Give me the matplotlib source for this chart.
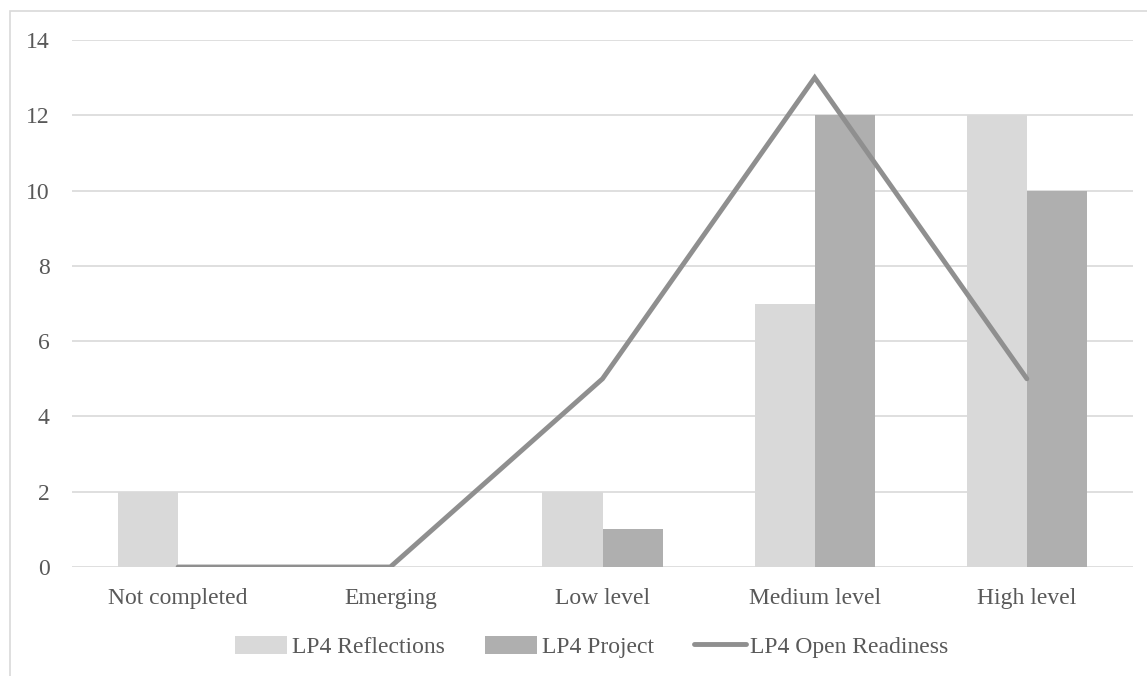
import numpy as np
import matplotlib.pyplot as plt
from matplotlib.patches import Rectangle

categories = ["Not completed", "Emerging", "Low level", "Medium level", "High level"]
reflections = [2, 0, 2, 7, 12]
project = [0, 0, 1, 12, 10]
open_readiness = [0, 0, 5, 13, 5]

plt.rcParams['font.family'] = ['Liberation Serif', 'DejaVu Serif']

fig = plt.figure(figsize=(11.47, 6.76), dpi=100)
ax = fig.add_axes([72/1147, 1-567/676, (1133-72)/1147, (567-40)/676])

x = np.arange(len(categories))
w = 0.283
b1 = ax.bar(x - w/2, reflections, w, color='#d9d9d9', label='LP4 Reflections', zorder=2)
b2 = ax.bar(x + w/2, project, w, color='#afafaf', label='LP4 Project', zorder=2)
l1, = ax.plot(x, open_readiness, color='#8f8f8f', lw=3.5, label='LP4 Open Readiness',
              solid_capstyle='round', solid_joinstyle='miter', zorder=3)

ax.set_xlim(-0.5, 4.5)
ax.set_ylim(0, 14)
ax.set_yticks(range(0, 15, 2))
ax.set_xticks(x)
ax.set_xticklabels(categories)
ax.grid(axis='y', color='#d9d9d9', lw=1.2, zorder=0)
for s in ax.spines.values():
    s.set_visible(False)
ax.tick_params(length=0, labelsize=17, colors='#595959')
ax.tick_params(axis='x', pad=15)
ax.tick_params(axis='y', pad=16)

leg = ax.legend([b1, b2, l1], ['LP4 Reflections', 'LP4 Project', 'LP4 Open Readiness'],
                loc='upper center', bbox_to_anchor=(0.49, -0.09), ncol=3, frameon=False,
                fontsize=17, labelcolor='#595959', handlelength=2.2, handletextpad=0.2,
                columnspacing=1.7, handleheight=0.8)

# chart border
fig.patches.append(Rectangle((10/1147, -0.05), 1.2, 1-11/676 + 0.05, transform=fig.transFigure,
                             fill=False, edgecolor='#d9d9d9', lw=1.2))

fig.savefig('out.png', dpi=100)
